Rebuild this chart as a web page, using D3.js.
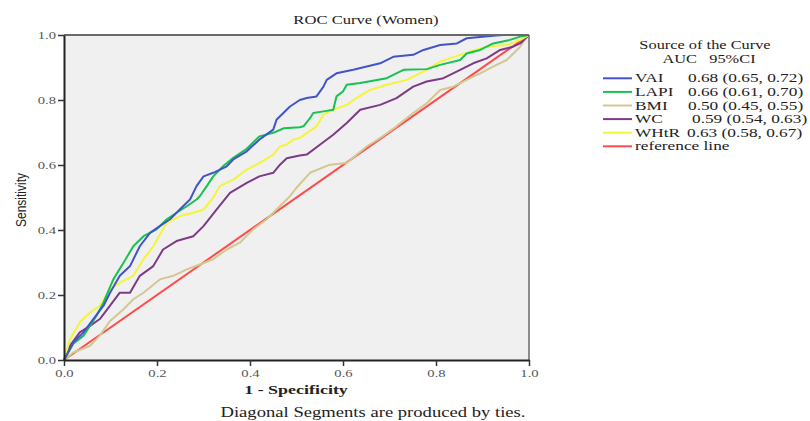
<!DOCTYPE html>
<html><head><meta charset="utf-8">
<script src="https://cdn.jsdelivr.net/npm/d3@7/dist/d3.min.js"></script>
<style>body{margin:0;background:#fff}svg{display:block}</style>
</head><body>
<script>
// ---- data ----
const vaiX  = [0,.02,.042,.063,.085,.099,.12,.142,.163,.185,.206,.228,.249,.271,.285,.3,.321,.35,.364,.393,.42,.45,.457,.486,.507,.522,.543,.558,.565,.586,.622,.651,.68,.708,.751,.773,.809,.845,.866,.923,.944,1];
const vaiY  = [0,.054,.085,.126,.167,.207,.259,.289,.35,.391,.412,.433,.463,.494,.535,.565,.576,.596,.617,.642,.678,.709,.739,.78,.80,.806,.811,.841,.862,.882,.893,.903,.913,.933,.939,.954,.969,.974,.99,.998,1,1];
const lapiX = [0,.02,.042,.07,.085,.106,.128,.149,.171,.199,.221,.242,.264,.285,.292,.307,.321,.342,.364,.393,.42,.45,.473,.507,.515,.529,.536,.558,.579,.586,.6,.608,.637,.694,.73,.78,.809,.852,.866,.895,.923,.959,.981,1];
const lapiY = [0,.05,.075,.136,.177,.248,.299,.35,.381,.402,.433,.453,.473,.494,.504,.535,.565,.596,.622,.65,.688,.699,.713,.716,.719,.744,.76,.765,.77,.811,.826,.847,.852,.867,.893,.895,.908,.923,.943,.954,.974,.985,.995,1];
const bmiX  = [0,.02,.056,.077,.099,.128,.149,.171,.206,.235,.264,.292,.321,.35,.378,.407,.436,.464,.486,.5,.529,.572,.608,.651,.68,.715,.751,.78,.809,.837,.866,.895,.923,.952,.981,.995,1];
const bmiY  = [0,.023,.044,.075,.12,.156,.187,.207,.248,.259,.279,.294,.31,.34,.361,.402,.433,.473,.504,.53,.576,.601,.606,.657,.683,.719,.76,.79,.831,.841,.862,.882,.903,.923,.964,.995,1];
const wcX   = [0,.013,.034,.056,.077,.099,.12,.142,.163,.192,.213,.242,.278,.3,.328,.357,.393,.42,.45,.4645,.479,.507,.522,.551,.579,.608,.637,.68,.715,.751,.78,.816,.852,.88,.909,.938,.966,.981,1];
const wcY   = [0,.044,.085,.105,.126,.167,.207,.207,.259,.289,.34,.366,.381,.412,.463,.514,.545,.565,.576,.601,.621,.629,.632,.663,.693,.729,.77,.785,.806,.841,.857,.867,.893,.913,.928,.954,.964,.974,1];
const whtrX = [0,.013,.034,.056,.077,.099,.12,.149,.171,.192,.221,.249,.278,.3,.321,.335,.364,.393,.42,.45,.4645,.479,.493,.507,.522,.543,.558,.579,.608,.629,.658,.694,.737,.78,.809,.852,.873,.909,.952,.981,1];
const whtrY = [0,.064,.116,.146,.167,.218,.238,.259,.31,.35,.422,.443,.453,.463,.5,.535,.555,.586,.606,.632,.657,.663,.678,.683,.698,.719,.755,.77,.785,.806,.831,.847,.862,.893,.918,.939,.949,.964,.969,.985,1];
const refX  = [0,1];
const refY  = [0,1];

const seriesNames = ["VAI","LAPI","BMI","WC","WHtR","reference line"];
const aucLabels   = ["0.68 (0.65, 0.72)","0.66 (0.61, 0.70)","0.50 (0.45, 0.55)","0.59 (0.54, 0.63)","0.63 (0.58, 0.67)",""];
const tickValues  = [0,0.2,0.4,0.6,0.8,1.0];

const series = [
  {name:"VAI",  x:vaiX,  y:vaiY,  color:"#4354c6"},
  {name:"LAPI", x:lapiX, y:lapiY, color:"#17c152"},
  {name:"BMI",  x:bmiX,  y:bmiY,  color:"#d3c792"},
  {name:"WC",   x:wcX,   y:wcY,   color:"#7d3b87"},
  {name:"WHtR", x:whtrX, y:whtrY, color:"#f4f43a"},
  {name:"reference line", x:refX, y:refY, color:"#ff4b4b"}
];

// ---- layout ----
const W = 810, H = 421, SX = 1.33;
const serif = "'Liberation Serif','Times New Roman',serif";
const svg = d3.select("body").append("svg").attr("width",W).attr("height",H);

const xS = d3.scaleLinear().domain([0,1]).range([64,529]);
const yS = d3.scaleLinear().domain([0,1]).range([360,35]);

function stext(parent, x, y, txt, o={}) {
  const g = parent.append("g").attr("transform",`translate(${x},${y}) scale(${o.sx||SX},1)`);
  return g.append("text").attr("x",0).attr("y",0)
    .attr("text-anchor",o.anchor||"start")
    .style("font-family",o.font||serif)
    .style("font-size",(o.size||13)+"px")
    .style("font-weight",o.weight||"normal")
    .style("fill",o.fill||"#222")
    .style("white-space","pre")
    .text(txt);
}

// plot background
svg.append("rect").attr("x",xS(0)).attr("y",yS(1)).attr("width",xS(1)-xS(0)).attr("height",yS(0)-yS(1))
  .attr("fill","#f0f0f0");

// curves
const line = d3.line().x(d=>xS(d[0])).y(d=>yS(d[1]));
const order = [5,2,3,4,1,0];
order.forEach(i=>{
  const s = series[i];
  const pts = s.x.map((v,k)=>[v,s.y[k]]);
  svg.append("path").attr("d",line(pts)).attr("fill","none")
    .attr("stroke",s.color).attr("stroke-width",2).attr("stroke-linejoin","round");
});

// frame: top and right
svg.append("line").attr("x1",xS(0)).attr("x2",xS(1)).attr("y1",yS(1)).attr("y2",yS(1))
  .attr("stroke","#6a6a6a").attr("stroke-width",2);
svg.append("line").attr("x1",xS(1)).attr("x2",xS(1)).attr("y1",yS(1)).attr("y2",yS(0))
  .attr("stroke","#6a6a6a").attr("stroke-width",1.5);

// axes
const fmt = d3.format(".1f");
const gx = svg.append("g").attr("transform",`translate(0,${yS(0)})`)
  .call(d3.axisBottom(xS).tickValues(tickValues).tickFormat(fmt).tickSize(6).tickSizeOuter(0));
const gy = svg.append("g").attr("transform",`translate(${xS(0)},0)`)
  .call(d3.axisLeft(yS).tickValues(tickValues).tickFormat(fmt).tickSize(6).tickSizeOuter(0));
[gx,gy].forEach(g=>{
  g.select(".domain").attr("stroke","#222").attr("stroke-width",2);
  g.selectAll(".tick line").attr("stroke","#333").attr("stroke-width",1.5);
  g.selectAll(".tick text").style("font-family",serif).style("font-size","11px").style("fill","#555");
});
gx.selectAll(".tick text").attr("transform",`scale(${SX},1)`).attr("y",9).attr("dy","0.71em");
gy.selectAll(".tick text").attr("transform",`scale(${SX},1)`).attr("x",-8/SX);

// titles
stext(svg, 366, 24, "ROC Curve (Women)", {anchor:"middle", size:12.5, fill:"#222"});
stext(svg, 296, 394, "1 - Specificity", {anchor:"middle", size:13.5, weight:"bold", fill:"#222"});
stext(svg, 373, 417, "Diagonal Segments are produced by ties.", {anchor:"middle", size:14, fill:"#222"});
// y label (condensed sans, rotated)
svg.append("g").attr("transform",`translate(26,200) scale(1.25,1) rotate(-90)`)
  .append("text").attr("text-anchor","middle")
  .style("font-family","'Liberation Sans',Arial,sans-serif").style("font-size","12px").style("fill","#222")
  .text("Sensitivity");

// legend header
stext(svg, 705, 49, "Source of the Curve", {anchor:"middle", size:12.3});
stext(svg, 709, 63, "AUC   95%CI", {anchor:"middle", size:12.3});

const legY0 = 78.3, legDy = 13.6;
const valX = [688,688,688,692,687,688];
series.forEach((s,i)=>{
  const cy = legY0 + i*legDy;
  svg.append("line").attr("x1",603).attr("x2",632).attr("y1",cy).attr("y2",cy)
    .attr("stroke",s.color).attr("stroke-width",2);
  stext(svg, 635, cy+4, seriesNames[i], {size:13});
  if (aucLabels[i]) stext(svg, valX[i], cy+4, aucLabels[i], {size:13});
});
</script>
</body></html>
